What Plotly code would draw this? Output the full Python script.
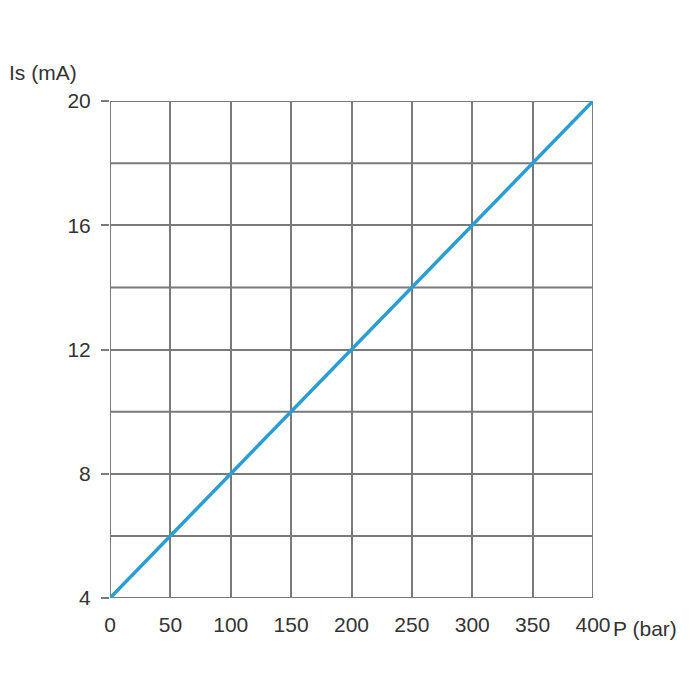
import plotly.graph_objects as go

# pressure (bar) vs output current (mA)
pressure_bar = [0, 50, 100, 150, 200, 250, 300, 350, 400]
current_ma = [4, 6, 8, 10, 12, 14, 16, 18, 20]

x_ticks = [0, 50, 100, 150, 200, 250, 300, 350, 400]
y_ticks = [4, 8, 12, 16, 20]
y_grid = [6, 10, 14, 18]

GRID = '#7a7a7a'
LINE = '#2a9dd2'
TEXT = '#333333'
FONT = 'Liberation Sans, Arial'

fig = go.Figure()

fig.add_trace(go.Scatter(
    x=pressure_bar, y=current_ma, mode='lines',
    line=dict(color=LINE, width=3.5),
    hoverinfo='skip', showlegend=False,
))

# minor horizontal grid lines (no tick labels)
for v in y_grid:
    fig.add_shape(type='line', xref='x', yref='y', x0=0, x1=400, y0=v, y1=v,
                  line=dict(color=GRID, width=2), layer='below')

# frame round the plot area
fig.add_shape(type='rect', xref='x', yref='y', x0=0, x1=400, y0=4, y1=20,
              line=dict(color=GRID, width=2), layer='below')

fig.update_xaxes(
    range=[0, 400], tickvals=x_ticks, ticks='', showgrid=True,
    gridcolor=GRID, gridwidth=2, zeroline=False, showline=False,
    tickfont=dict(family=FONT, size=21, color=TEXT),
    ticklabelstandoff=12,
)
fig.update_yaxes(
    range=[4, 20], tickvals=y_ticks, ticks='outside', ticklen=8,
    tickcolor=GRID, tickwidth=2, showgrid=True, gridcolor=GRID, gridwidth=2,
    zeroline=False, showline=False,
    tickfont=dict(family=FONT, size=21, color=TEXT),
    ticklabelstandoff=6,
)

fig.add_annotation(text='Is (mA)', xref='paper', yref='paper', x=-0.213, y=1.058,
                   xanchor='left', yanchor='middle', showarrow=False,
                   font=dict(family=FONT, size=21, color=TEXT))
fig.add_annotation(text='P (bar)', xref='paper', yref='paper', x=1.037, y=-0.062,
                   xanchor='left', yanchor='middle', showarrow=False,
                   font=dict(family=FONT, size=21, color=TEXT))

fig.update_layout(
    width=700, height=700,
    margin=dict(l=102, r=115, t=93, b=110),
    plot_bgcolor='white', paper_bgcolor='white',
)

fig.write_html('out.html')
